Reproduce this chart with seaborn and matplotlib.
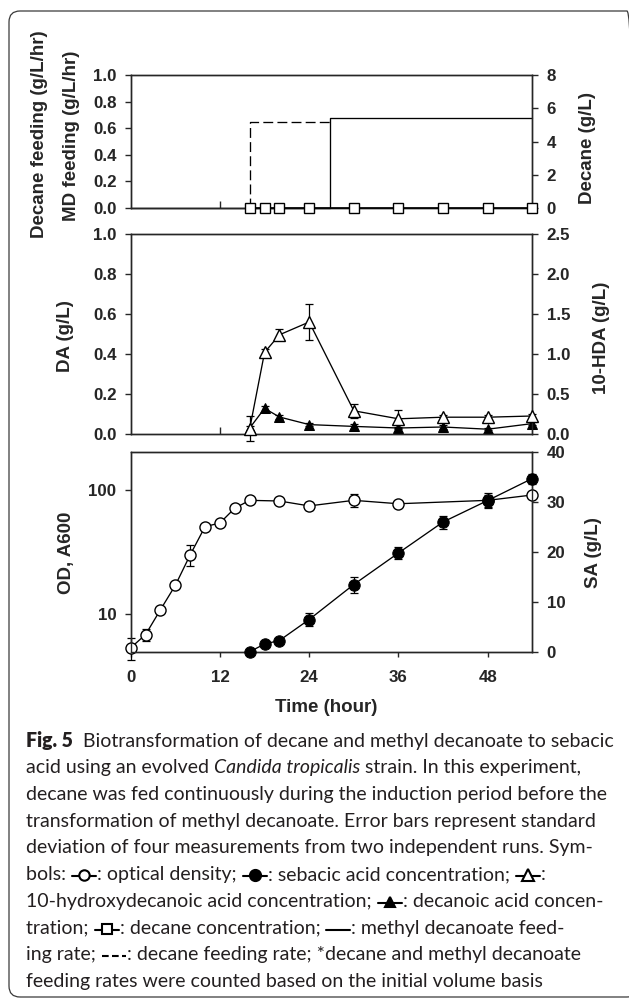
import matplotlib
matplotlib.use("Agg")
import matplotlib.pyplot as plt
import seaborn as sns
from matplotlib.patches import FancyBboxPatch
from matplotlib.lines import Line2D
from matplotlib.ticker import NullLocator

# ---------------- data ----------------
# top panel: feeding rates (left, g/L/hr) and decane concentration (right, g/L)
md_feed_time = [0, 26.8, 26.8, 54]
md_feed_rate = [0, 0, 0.68, 0.68]
dec_feed_time = [16, 16, 26.8]
dec_feed_rate = [0, 0.65, 0.65]
decane_time = [16, 18, 20, 24, 30, 36, 42, 48, 54]
decane_conc = [0, 0, 0, 0, 0, 0, 0, 0, 0]

# middle panel: decanoic acid (left) and 10-HDA (right)
acid_time = [16, 18, 20, 24, 30, 36, 42, 48, 54]
da_conc = [0.03, 0.128, 0.085, 0.047, 0.038, 0.03, 0.035, 0.024, 0.052]
da_err = [0.01, 0.012, 0.01, 0.006, 0.012, 0.006, 0.008, 0.005, 0.008]
hda_conc = [0.065, 1.02, 1.24, 1.40, 0.29, 0.19, 0.21, 0.21, 0.225]
hda_err = [0.155, 0.04, 0.07, 0.23, 0.09, 0.11, 0.03, 0.03, 0.03]

# bottom panel: OD (left, log) and sebacic acid (right)
od_time = [0, 2, 4, 6, 8, 10, 12, 14, 16, 20, 24, 30, 36, 48, 54]
od_val = [5.4, 6.9, 10.9, 17.1, 30, 50.5, 54, 71, 82, 81, 74, 82, 77, 82, 90.5]
od_err = [1.05, 0.8, 0.3, 0.5, 5.7, 1.0, 1.0, 1.5, 2.0, 5.0, 6.0, 10.0, 2.0, 9.0, 3.0]
sa_time = [16, 18, 20, 24, 30, 36, 42, 48, 54]
sa_val = [0.05, 1.6, 2.3, 6.5, 13.5, 19.8, 26.0, 30.3, 34.7]
sa_err = [0.1, 0.3, 0.3, 1.3, 1.6, 1.2, 1.3, 1.5, 1.0]

# tick labels
time_ticks = [0, 12, 24, 36, 48]
frac_ticks = [0.0, 0.2, 0.4, 0.6, 0.8, 1.0]
decane_ticks = [0, 2, 4, 6, 8]
hda_ticks = [0.0, 0.5, 1.0, 1.5, 2.0, 2.5]
od_ticks = [10, 100]
sa_ticks = [0, 10, 20, 30, 40]

# ---------------- style ----------------
sns.set_style("ticks")
plt.rcParams["font.family"] = ["Liberation Sans", "DejaVu Sans"]
plt.rcParams["font.weight"] = "bold"
plt.rcParams["axes.linewidth"] = 1.0

W, H = 629, 998
fig = plt.figure(figsize=(W / 100, H / 100), dpi=100)
fig.patch.set_facecolor("white")


def axes_px(left, top, right, bottom):
    return fig.add_axes([left / W, 1 - bottom / H, (right - left) / W, (bottom - top) / H])


AXL, AXR = 130.7, 532.3
ax1 = axes_px(AXL, 75, AXR, 208)
ax2 = axes_px(AXL, 234, AXR, 434)
ax3 = axes_px(AXL, 452, AXR, 652)
ax1r = ax1.twinx()
ax2r = ax2.twinx()
ax3r = ax3.twinx()

LW = 0.95
TICKFS = 12.2
LABFS = 13.5

# ---- top panel ----
sns.lineplot(x=md_feed_time, y=md_feed_rate, ax=ax1, color="k", lw=LW,
             estimator=None, sort=False, clip_on=False)
sns.lineplot(x=dec_feed_time, y=dec_feed_rate, ax=ax1, color="k", lw=LW,
             linestyle=(0, (7.5, 3.2)), estimator=None, sort=False)
sns.lineplot(x=decane_time, y=decane_conc, ax=ax1r, color="k", lw=1.2, marker="s",
             markersize=7.2, markerfacecolor="white", markeredgecolor="k",
             markeredgewidth=1.0, clip_on=False, zorder=3)
ax1.set_ylim(0, 1.0)
ax1r.set_ylim(0, 8)

# ---- middle panel ----
ax2.errorbar(acid_time, da_conc, yerr=da_err, fmt="none", ecolor="k",
             elinewidth=0.9, capsize=3, capthick=0.9, clip_on=False, zorder=1)
sns.lineplot(x=acid_time, y=da_conc, ax=ax2, color="k", lw=LW, marker="^",
             markersize=7.5, markerfacecolor="k", markeredgecolor="k",
             clip_on=False, zorder=3)
ax2r.errorbar(acid_time, hda_conc, yerr=hda_err, fmt="none", ecolor="k",
              elinewidth=0.9, capsize=3, capthick=0.9, clip_on=False, zorder=1)
sns.lineplot(x=acid_time, y=hda_conc, ax=ax2r, color="k", lw=LW, marker="^",
             markersize=8.2, markerfacecolor="white", markeredgecolor="k",
             markeredgewidth=1.0, clip_on=False, zorder=3)
ax2.set_ylim(0, 1.0)
ax2r.set_ylim(0, 2.5)

# ---- bottom panel ----
ax3.set_yscale("log")
ax3.errorbar(od_time, od_val, yerr=od_err, fmt="none", ecolor="k",
             elinewidth=0.9, capsize=3, capthick=0.9, clip_on=False, zorder=1)
sns.lineplot(x=od_time, y=od_val, ax=ax3, color="k", lw=LW, marker="o",
             markersize=8, markerfacecolor="white", markeredgecolor="k",
             markeredgewidth=1.0, clip_on=False, zorder=3)
ax3r.errorbar(sa_time, sa_val, yerr=sa_err, fmt="none", ecolor="k",
              elinewidth=0.9, capsize=3, capthick=0.9, clip_on=False, zorder=1)
sns.lineplot(x=sa_time, y=sa_val, ax=ax3r, color="k", lw=LW, marker="o",
             markersize=8.2, markerfacecolor="k", markeredgecolor="k",
             clip_on=False, zorder=3)
ax3.set_ylim(5, 200)
ax3r.set_ylim(0, 40)

# ---- axes styling ----
for ax in (ax1, ax2, ax3, ax1r, ax2r, ax3r):
    ax.set_xlim(0, 54)
    ax.set_xlabel("")
    ax.set_ylabel("")
    for s in ax.spines.values():
        s.set_linewidth(1.0)
        s.set_visible(True)

for ax, ticks in ((ax1, frac_ticks), (ax2, frac_ticks)):
    ax.set_yticks(ticks)
    ax.set_yticklabels([f"{t:.1f}" for t in ticks])
for ax in (ax1, ax2, ax3):
    ax.tick_params(axis="y", which="major", direction="out", length=4.3,
                   width=1.0, pad=6.0, labelsize=TICKFS)
ax3.set_yticks(od_ticks)
ax3.set_yticklabels([str(t) for t in od_ticks])
ax3.yaxis.set_minor_locator(NullLocator())
ax3.tick_params(axis="y", which="minor", length=0)

ax1r.set_yticks(decane_ticks)
ax1r.set_yticklabels([str(t) for t in decane_ticks])
ax2r.set_yticks(hda_ticks)
ax2r.set_yticklabels([f"{t:.1f}" for t in hda_ticks])
ax3r.set_yticks(sa_ticks)
ax3r.set_yticklabels([str(t) for t in sa_ticks])
for ax in (ax1r, ax2r, ax3r):
    ax.tick_params(axis="y", which="major", direction="out", length=4.3,
                   width=1.0, pad=6.0, labelsize=TICKFS)

for ax in (ax1, ax2):
    ax.set_xticks([12])
    ax.tick_params(axis="x", direction="in", length=5, width=1.0,
                   labelbottom=False)
ax3.set_xticks(time_ticks)
ax3.set_xticklabels([str(t) for t in time_ticks])
ax3.tick_params(axis="x", direction="out", length=3.6, width=1.0, pad=9.0,
                labelsize=TICKFS)
for ax in (ax1r, ax2r, ax3r):
    ax.tick_params(axis="x", length=0, labelbottom=False)


def ylab(x, y, s):
    fig.text(x / W, 1 - y / H, s, rotation=90, ha="center", va="center",
             fontsize=LABFS, fontweight="bold")


ylab(40, 134, "Decane feeding (g/L/hr)")
ylab(72, 136, "MD feeding (g/L/hr)")
ylab(587, 148, "Decane (g/L)")
ylab(66, 336, "DA (g/L)")
ylab(601, 338, "10-HDA (g/L)")
ylab(66, 553, "OD, A600")
ylab(594, 553, "SA (g/L)")
fig.text(326 / W, 1 - 707 / H, "Time (hour)", ha="center", va="center",
         fontsize=LABFS, fontweight="bold")

# ---------------- caption ----------------
CAPF = ["Lato", "DejaVu Sans"]
REG = dict(family=CAPF, weight="normal", style="normal")
BOLD = dict(family=CAPF, weight="heavy", style="normal")
ITAL = dict(family=CAPF, weight="normal", style="italic")

caption_lines = [
    [("t", "Fig. 5", BOLD), ("t", "  Biotransformation of decane and methyl decanoate to sebacic", REG)],
    [("t", "acid using an evolved ", REG), ("t", "Candida tropicalis", ITAL), ("t", " strain. In this experiment,", REG)],
    [("t", "decane was fed continuously during the induction period before the", REG)],
    [("t", "transformation of methyl decanoate. Error bars represent standard", REG)],
    [("t", "deviation of four measurements from two independent runs. Sym-", REG)],
    [("t", "bols: ", REG), ("s", "od"), ("t", ": optical density; ", REG), ("s", "sa"),
     ("t", ": sebacic acid concentration; ", REG), ("s", "hda"), ("t", ":", REG)],
    [("t", "10-hydroxydecanoic acid concentration; ", REG), ("s", "da"),
     ("t", ": decanoic acid concen-", REG)],
    [("t", "tration; ", REG), ("s", "dec"), ("t", ": decane concentration; ", REG),
     ("s", "md"), ("t", ": methyl decanoate feed-", REG)],
    [("t", "ing rate; ", REG), ("s", "decfeed"),
     ("t", ": decane feeding rate; *decane and methyl decanoate", REG)],
    [("t", "feeding rates were counted based on the initial volume basis", REG)],
]

symbols = {
    "od": dict(marker="o", mfc="white", ms=7.5, ls="-"),
    "sa": dict(marker="o", mfc="k", ms=8, ls="-"),
    "hda": dict(marker="^", mfc="white", ms=9, ls="-"),
    "da": dict(marker="^", mfc="k", ms=6.5, ls="-"),
    "dec": dict(marker="s", mfc="white", ms=7, ls="-"),
    "md": dict(marker=None, mfc="k", ms=0, ls="-"),
    "decfeed": dict(marker=None, mfc="k", ms=0, ls=(0, (3.2, 1.6))),
}
SYMW = 26

renderer = fig.canvas.get_renderer()


def text_w(s, size, style):
    t1 = fig.text(0, 0, "x" + s + "x", fontsize=size, **style)
    t2 = fig.text(0, 0, "xx", fontsize=size, **style)
    w = t1.get_window_extent(renderer).width - t2.get_window_extent(renderer).width
    t1.remove()
    t2.remove()
    return w


def line_width(runs, size):
    w = 0
    for r in runs:
        w += text_w(r[1], size, r[2]) if r[0] == "t" else SYMW
    return w


w10 = line_width(caption_lines[0], 10)
CAPFS = 10 * (615.5 - 26) / w10

X0 = 26
base0 = 746.7
step = 26.7
for i, runs in enumerate(caption_lines):
    baseline = base0 + i * step
    x = X0
    for r in runs:
        if r[0] == "t":
            s, st = r[1], r[2]
            lead = len(s) - len(s.lstrip(" "))
            xd = x + (text_w(" " * lead, CAPFS, st) if lead else 0)
            fig.text(xd / W, 1 - baseline / H, s.lstrip(" "), fontsize=CAPFS,
                     ha="left", va="baseline", color="#231f20", **st)
            x += text_w(s, CAPFS, st)
        else:
            spec = symbols[r[1]]
            yd = H - baseline + 4
            fig.add_artist(Line2D([x + 1, x + SYMW - 1], [yd, yd], transform=None,
                                  color="k", lw=1.5, ls=spec["ls"]))
            if spec["marker"]:
                fig.add_artist(Line2D([x + SYMW / 2], [yd + 1], transform=None,
                                      marker=spec["marker"], ms=spec["ms"],
                                      mfc=spec["mfc"], mec="k", mew=1.5, ls="none"))
            x += SYMW

# frame
fig.patches.append(FancyBboxPatch((9, 1), 629, 986,
                                  boxstyle="round,pad=0,rounding_size=11",
                                  transform=None, fill=False,
                                  edgecolor="#3a3a3a", linewidth=0.9))

fig.savefig("out.png", dpi=100)
